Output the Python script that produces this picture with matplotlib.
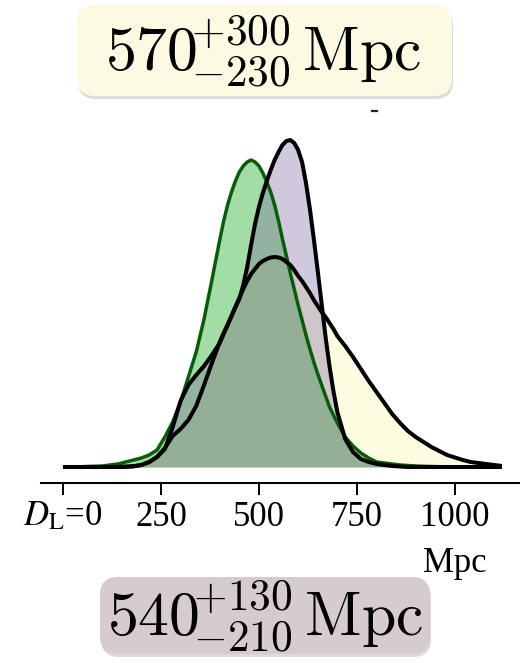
import numpy as np
import matplotlib
matplotlib.use('Agg')
import matplotlib.pyplot as plt
from matplotlib.patches import FancyBboxPatch
from matplotlib.lines import Line2D

# ---------------- data ----------------
# luminosity distance grid, Mpc (finer around the peaks)
distance = np.concatenate([np.arange(0, 400, 20),
                           np.arange(400, 700, 10),
                           np.arange(700, 1121, 20)])

# relative posterior density (arbitrary units)
green = [0, 0, 0, 0.5, 0.7, 1, 2, 3, 5, 7,            # 0-180
         9, 12, 17, 30, 45, 65, 90, 115, 148, 187,    # 200-380
         227, 246, 262, 275, 286, 295, 301, 305, 307, 305,   # 400-490
         301, 294, 285, 275, 262, 246, 228, 211, 194, 178,   # 500-590
         162, 147, 132, 118, 105, 93, 82, 71, 60, 52,        # 600-690
         44, 30, 21, 14, 9, 5, 4, 3, 2, 1.5,          # 700-880
         1, 0.7, 0.5, 0.3, 0.2, 0, 0, 0, 0, 0, 0, 0]  # 900-1120

purple = [0, 0, 0, 0, 0, 0, 0, 0, 0.3, 0.7,
          2, 5, 10, 18, 40, 66, 82, 92, 101, 112,
          124, 133, 142, 151, 160, 168, 182, 200, 222, 243,
          260, 274, 286, 297, 307, 315, 322, 326, 327, 324,
          317, 305, 284, 258, 228, 196, 163, 130, 101, 76,
          55, 28, 15, 8, 5, 3, 2, 1, 0.5, 0,
          0, 0, 0, 0, 0, 0, 0, 0, 0, 0, 0, 0]

yellow = [0, 0, 0, 0, 0, 0, 0, 0, 0.3, 0.7,
          2, 5, 10, 19, 31, 38, 47, 61, 82, 104,
          125, 134, 142, 151, 160, 169, 178, 186, 193, 198,
          203, 206, 208, 209.5, 210, 209.5, 208, 205, 202, 197,
          191, 186, 180, 174, 167, 161, 155, 150, 144, 138,
          131, 121, 110, 98, 86, 75, 64, 53, 44, 36,
          30, 25, 20, 16, 12, 9.5, 7, 5, 4, 3, 2, 1]

tick_values = [0, 250, 500, 750, 1000]
tick_labels = [r'$D_{\mathrm{L}}$=0', '250', '500', '750', '1000']
unit_label = 'Mpc'
top_label = r'$570\!^{+300}_{-230}\,\mathrm{Mpc}$'
bottom_label = r'$540\!^{+130}_{-210}\,\mathrm{Mpc}$'

# ---------------- figure ----------------
W, H = 520, 663
fig = plt.figure(figsize=(W / 100, H / 100), dpi=100)
fig.patch.set_facecolor('white')

ax = fig.add_axes([41 / W, (H - 483) / H, 479 / W, (483 - 110) / H])
ax.set_xlim(-56, 1166)
ax.set_ylim(-16, 357)

ax.fill_between(distance, 0, yellow, color='#FEFDE2', lw=0, zorder=1)
ax.fill_between(distance, 0, green, color=(0.0, 0.63, 0.04), alpha=0.36, lw=0, zorder=2)
ax.fill_between(distance, 0, purple, color=(0.475, 0.384, 0.608), alpha=0.35, lw=0, zorder=3)
ax.plot(distance, green, color='#0a5c0a', lw=2.5, zorder=4,
        solid_joinstyle='round', solid_capstyle='butt')
ax.plot(distance, yellow, color='black', lw=2.9, zorder=5,
        solid_joinstyle='round', solid_capstyle='butt')
ax.plot(distance, purple, color='black', lw=2.9, zorder=6,
        solid_joinstyle='round', solid_capstyle='butt')

for s in ['top', 'right', 'left']:
    ax.spines[s].set_visible(False)
ax.spines['bottom'].set_linewidth(1.5)
ax.set_yticks([])
ax.set_xticks(tick_values)
ax.set_xticklabels(tick_labels, family='Liberation Serif', math_fontfamily='stix')
ax.tick_params(axis='x', length=8.6, width=1.4, pad=4, labelsize=25, direction='out')
ax.patch.set_alpha(0)

# ---------------- overlay in pixel coordinates ----------------
ov = fig.add_axes([0, 0, 1, 1])
ov.set_xlim(0, W)
ov.set_ylim(H, 0)
ov.axis('off')
ov.patch.set_alpha(0)


def label_box(x0, y0, x1, y1, color, text, tx, ty):
    shadow = FancyBboxPatch((x0 + 1, y0 + 3), x1 - x0, y1 - y0,
                            boxstyle='round,pad=0,rounding_size=18',
                            fc='#888888', ec='none', alpha=0.3)
    box = FancyBboxPatch((x0, y0), x1 - x0, y1 - y0,
                         boxstyle='round,pad=0,rounding_size=18',
                         fc=color, ec='none')
    ov.add_patch(shadow)
    ov.add_patch(box)
    ov.text(tx, ty, text, ha='center', va='center', fontsize=44.5,
            math_fontfamily='cm', color='black')


label_box(77, 5, 452, 96, '#FDFAE3', top_label, 263, 52)
label_box(100, 577, 430, 654, '#D6CBD0', bottom_label, 265, 617)

ov.text(455, 547, unit_label, ha='center', va='top', fontsize=25,
        family='Liberation Serif')
ov.add_line(Line2D([372, 377], [111, 111], color='#222222', lw=1.6))

fig.savefig('out.png', dpi=100)
